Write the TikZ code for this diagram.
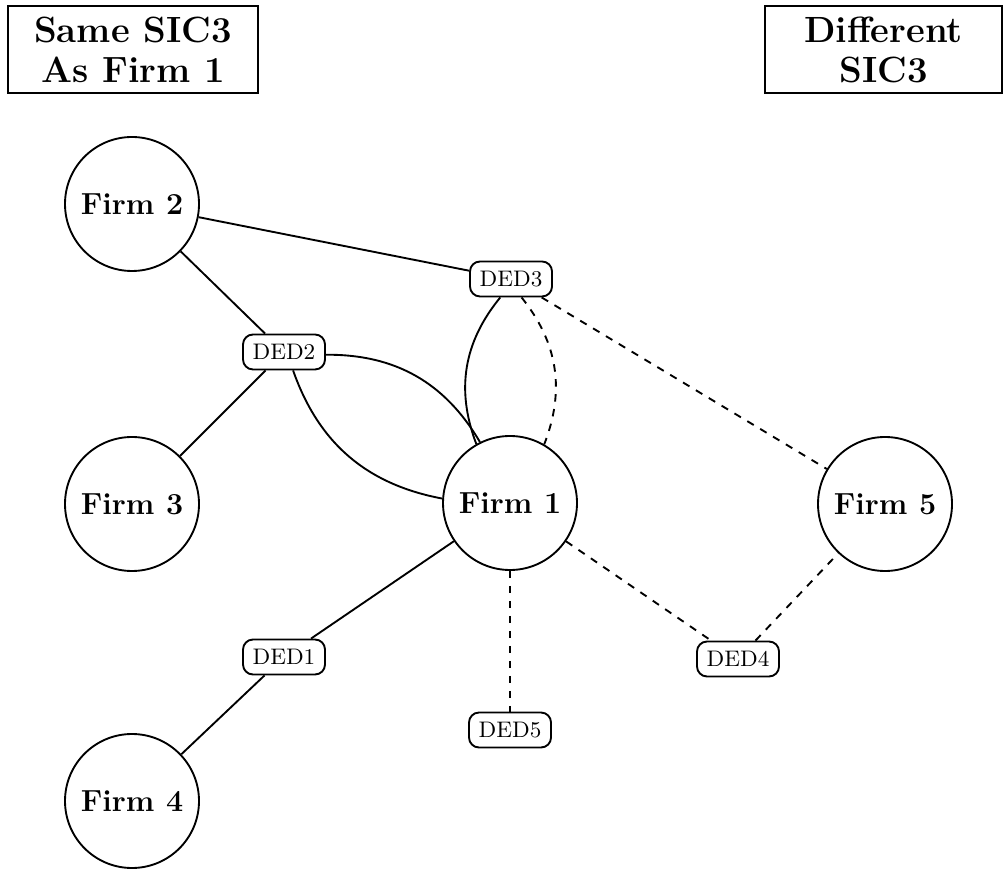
\documentclass[tikz,border=0pt]{standalone}
\begin{document}
\begin{tikzpicture}[x=0.4pt,y=-0.4pt,
  every path/.style={line width=0.75pt},
  firm/.style={draw,circle,minimum size=53.6pt,inner sep=0pt,line width=0.75pt,font=\fontsize{12.2}{14}\selectfont\bfseries},
  ded/.style={draw,rounded corners=4pt,minimum width=32.8pt,minimum height=14pt,inner sep=1pt,line width=0.75pt,font=\fontsize{9}{11}\selectfont},
  hdr/.style={draw,minimum height=34.8pt,inner sep=0pt,align=center,line width=0.75pt,font=\fontsize{14.6}{16}\selectfont\bfseries},
  link/.style={line width=0.75pt},
  dlink/.style={line width=0.75pt,dashed}]
\useasboundingbox (0,0) rectangle (1004,870);
\node[hdr,minimum width=100pt] (h1) at (133,49.5) {Same SIC3\\As Firm 1};
\node[hdr,minimum width=94.8pt] (h2) at (883.5,49.5) {Different\\SIC3};
\node[firm] (f2) at (132,204) {Firm 2};
\node[firm] (f3) at (132,504) {Firm 3};
\node[firm] (f4) at (132,801) {Firm 4};
\node[firm] (f1) at (510,503) {Firm 1};
\node[firm] (f5) at (885,504) {Firm 5};
\node[ded] (d1) at (284,657) {DED1};
\node[ded] (d2) at (284,352) {DED2};
\node[ded] (d3) at (511,279) {DED3};
\node[ded] (d4) at (738,659) {DED4};
\node[ded] (d5) at (510,730) {DED5};
\draw[link] (f2) -- (d3);
\draw[link] (f2) -- (d2);
\draw[link] (d2) -- (f3);
\draw[link] (d2) to[bend left=30] (f1);
\draw[link] (d2) to[bend right=30] (f1);
\draw[link] (d3) to[bend right=30] (f1);
\draw[dlink] (d3) to[bend left=30] (f1);
\draw[dlink] (d3) -- (f5);
\draw[link] (f1) -- (d1);
\draw[link] (d1) -- (f4);
\draw[dlink] (f1) -- (d5);
\draw[dlink] (f1) -- (d4);
\draw[dlink] (d4) -- (f5);
\end{tikzpicture}
\end{document}
